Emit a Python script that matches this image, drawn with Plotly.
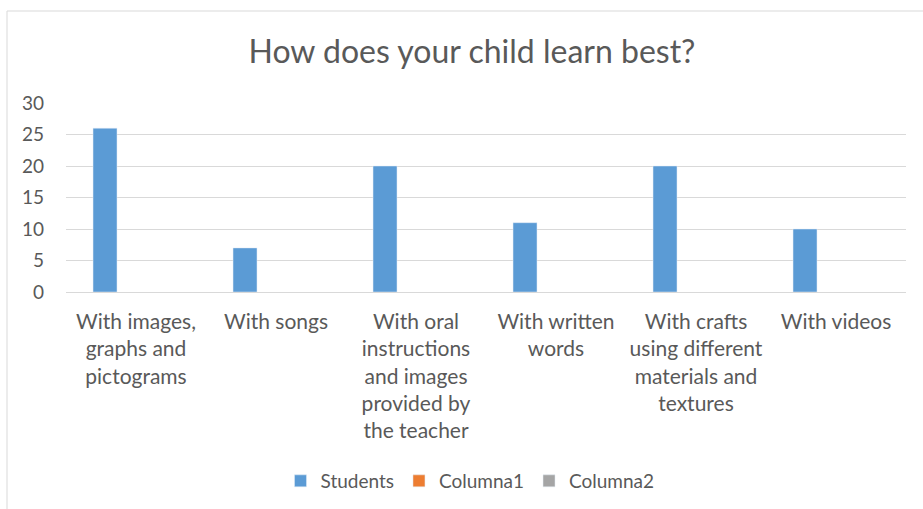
import plotly.graph_objects as go

categories = [
    "With images,<br>graphs and<br>pictograms",
    "With songs",
    "With oral<br>instructions<br>and images<br>provided by<br>the teacher",
    "With written<br>words",
    "With crafts<br>using different<br>materials and<br>textures",
    "With videos",
]
students = [26, 7, 20, 11, 20, 10]
columna1 = [None, None, None, None, None, None]
columna2 = [None, None, None, None, None, None]
y_ticks = [0, 5, 10, 15, 20, 25, 30]

FONT = "Lato"
TXT = "#595959"

fig = go.Figure()
fig.add_trace(go.Bar(name="Students", x=categories, y=students, marker_color="#5B9BD5"))
fig.add_trace(go.Bar(name="Columna1", x=categories, y=columna1, marker_color="#ED7D31"))
fig.add_trace(go.Bar(name="Columna2", x=categories, y=columna2, marker_color="#A5A5A5"))

L, R, T, B = 66, 17, 103, 217
W, H = 923, 509
pw, ph = W - L - R, H - T - B

fig.update_layout(
    width=W, height=H,
    margin=dict(l=L, r=R, t=T, b=B, autoexpand=False),
    paper_bgcolor="white", plot_bgcolor="white",
    barmode="group", bargap=0.336, bargroupgap=0.226,
    font=dict(family=FONT, color=TXT),
    title=dict(text="How does your child learn best?", font=dict(size=32, color=TXT, family=FONT),
               x=(472 - L) / pw, xref="paper", xanchor="center",
               y=1 - 52 / H, yref="container", yanchor="middle"),
    legend=dict(orientation="h", x=(470 - L) / pw, xanchor="center", xref="paper",
                y=(292 - 481) / ph, yanchor="middle", font=dict(size=19, color=TXT, family=FONT),
                itemwidth=30),
    showlegend=True,
)
fig.update_xaxes(showgrid=False, showline=False, ticks="", tickfont=dict(size=21, color=TXT),
                 ticklabelstandoff=15)
fig.update_yaxes(range=[0, 30], tickvals=y_ticks, showgrid=True, gridcolor="#D9D9D9", gridwidth=1,
                 zeroline=True, zerolinecolor="#D9D9D9", zerolinewidth=1, showline=False,
                 tickfont=dict(size=19, color=TXT), ticklabelstandoff=21)

fig.add_shape(type="rect", xref="paper", yref="paper",
              x0=(7 - L) / pw, x1=(940 - L) / pw, y0=(ph + T - 530) / ph, y1=(ph + T - 11) / ph,
              line=dict(color="#D9D9D9", width=1), fillcolor="rgba(0,0,0,0)", layer="below")

fig.write_html("out.html", config={"displayModeBar": False},
               post_script="document.body.style.margin='0';")
